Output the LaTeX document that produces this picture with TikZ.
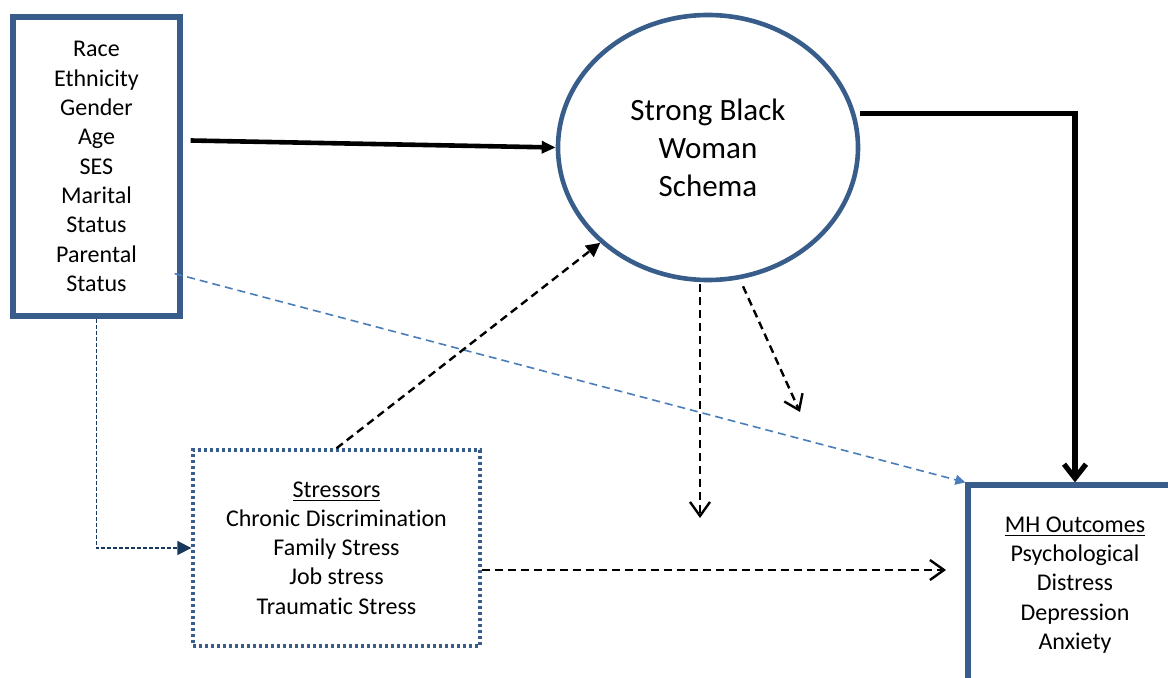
\documentclass[tikz,border=0pt]{standalone}
\usepackage{fontspec}
\setmainfont{Carlito}[Ligatures=NoCommon]
\usetikzlibrary{shapes.geometric,arrows.meta}
\definecolor{boxblue}{RGB}{56,93,138}
\definecolor{lineblue}{RGB}{74,126,187}
\definecolor{navy}{RGB}{23,55,94}
\begin{document}
\begin{tikzpicture}
        [x=0.5pt, y=-0.5pt,
         every node/.style={align=center, inner sep=0pt, font=\fontsize{12}{14.65}\selectfont},
         solidbox/.style={draw=boxblue, line width=2.6pt, rectangle},
         dotbox/.style={draw=boxblue, line width=1.7pt, dash pattern=on 1.5pt off 1.5pt},
         bigarrow/.style={line width=2.3pt, -{Triangle[length=7pt,width=6pt]}},
         openarrow/.style={line width=1.2pt, dash pattern=on 4pt off 2.5pt, -{Straight Barb[length=7pt,width=10pt]}}]
        \useasboundingbox (0,0) rectangle (1168,678);
        \node (demo) [solidbox, minimum width=83.5pt, minimum height=149.5pt] at (96.5,166.5)
            {Race\\Ethnicity\\Gender\\Age\\SES\\Marital\\Status\\Parental\\Status};
        \node (sbw) [ellipse, draw=boxblue, line width=2.3pt, minimum width=150pt, minimum height=132.5pt,
            font=\fontsize{15.5}{19}\selectfont] at (708,147.5) {Strong Black\\Woman\\Schema};
        \node (stressors) [dotbox, minimum width=143.5pt, minimum height=98pt] at (336.5,548)
            {\underline{Stressors}\\Chronic Discrimination\\Family Stress\\Job stress\\Traumatic Stress};
        \node (mh) [solidbox, minimum width=107pt, minimum height=100pt] at (1075,585)
            {\underline{MH Outcomes}\\Psychological\\Distress\\Depression\\Anxiety};
        \coordinate (down) at (700,518);
        \coordinate (side) at (800,412);
        \coordinate (ahead) at (946,570);
        \draw [bigarrow] ([shift={(4pt,13pt)}]demo.east) -- (sbw.west);
        \draw [line width=2.6pt, -{Straight Barb[length=7pt,width=11pt]}]
            ([yshift=17pt]sbw.east) -| (mh.north);
        \draw [lineblue, line width=0.8pt, dash pattern=on 4pt off 2.5pt, -{Triangle[length=5pt,width=5pt]}]
            ([shift={(-4pt,22.5pt)}]demo.south east) -- (mh.north west);
        \draw [navy, line width=0.9pt, dash pattern=on 2pt off 1pt, -{Triangle[length=7pt,width=7pt]}]
            (demo.south) |- (stressors.west);
        \draw [line width=1.2pt, dash pattern=on 4pt off 2.5pt, -{Triangle[length=7pt,width=7pt]}]
            (stressors.north) -- (sbw.south west);
        \draw [openarrow] ([shift={(-4pt,-1pt)}]sbw.south) -- (down);
        \draw [openarrow] ([shift={(17.5pt,-2pt)}]sbw.south) -- (side);
        \draw [openarrow] ([yshift=-11pt]stressors.east) -- (ahead);
    \end{tikzpicture}
\end{document}
